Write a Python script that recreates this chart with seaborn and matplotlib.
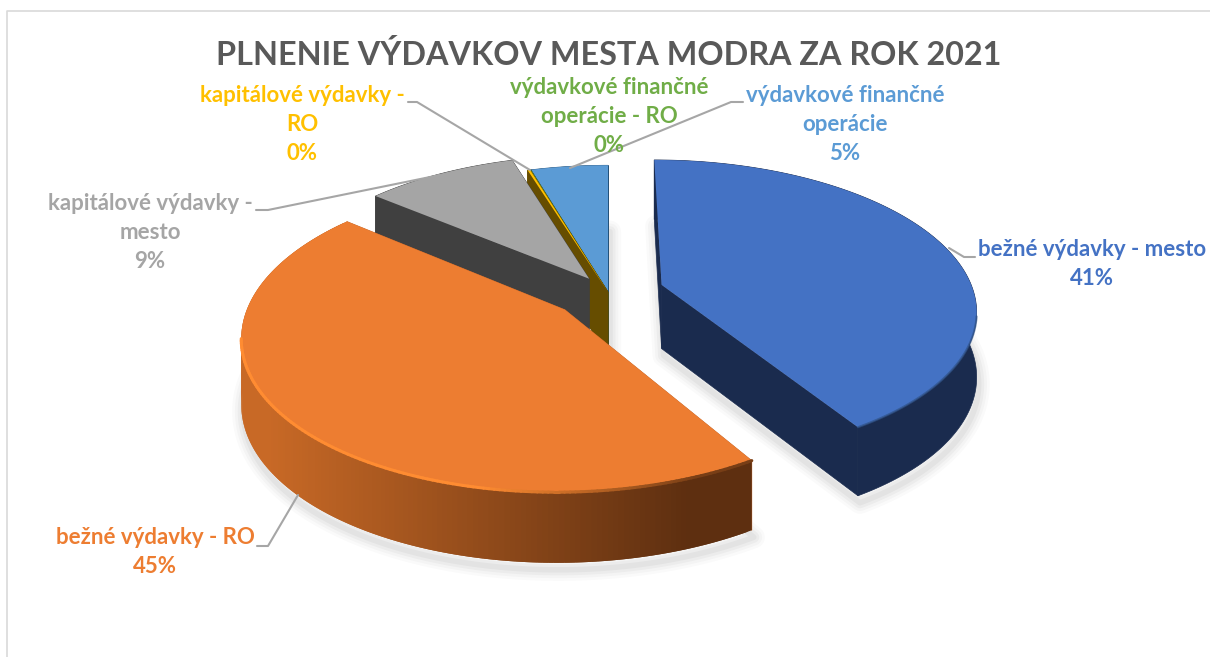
# Plnenie vydavkov - 3D kolac s perspektivou
import numpy as np
import matplotlib
matplotlib.use('Agg')
import matplotlib.pyplot as plt
import seaborn as sns

kategorie = ['bežné výdavky - mesto', 'bežné výdavky - RO', 'kapitálové výdavky - mesto',
             'kapitálové výdavky - RO', 'výdavkové finančné operácie - RO', 'výdavkové finančné operácie']
hodnoty = [41.2, 44.8, 9.2, 0.15, 0.05, 4.6]
popisky = [['bežné výdavky - mesto'], ['bežné výdavky - RO'], ['kapitálové výdavky -', 'mesto'],
           ['kapitálové výdavky -', 'RO'], ['výdavkové finančné', 'operácie - RO'], ['výdavkové finančné', 'operácie']]
vysunutie = [0.18, 0.18, 0.11, 0.0, 0.0, 0.0]
farby = ['#4472C4', '#ED7D31', '#A5A5A5', '#FFC000', '#70AD47', '#5B9BD5']
farby_bok = ['#1A2B4E', '#C8682A', '#404040', '#664D00', '#2C4A1C', '#24527A']
nadpis = 'PLNENIE VÝDAVKOV MESTA MODRA ZA ROK 2021'

# pozicie popiskov a vodiacich ciar (pixely)
pozicie_text = [(1092, 250), (155, 538), (150, 204), (302, 96), (609, 88), (845, 96)]
ciary = [[(949, 248), (964, 257), (975, 257)],
         [(257, 546), (268, 546), (298, 495)],
         [(256, 210), (268, 210), (440, 175)],
         [(408, 102), (417, 102), (530, 170)],
         None,
         [(743, 102), (731, 102), (570, 168)]]

# parametre projekcie
CX, CY = 608, 292
RX, RY = 312, 147
P = 0.16
H = 64


def proj(x, y, z=0.0):
    d = 1 + P * y
    return CX + RX * x / d, CY - RY * y / d + H * z / np.sqrt(d)


sns.set_theme(style='white')
plt.rcParams['font.family'] = ['Lato', 'DejaVu Sans']

fig = plt.figure(figsize=(12.1, 6.57), dpi=100)
ax = fig.add_axes([0, 0, 1, 1])
ax.set_xlim(0, 1210)
ax.set_ylim(657, 0)
ax.axis('off')

# ramik
ax.plot([6.5, 6.5, 1210], [657, 11, 11], color='#D9D9D9', lw=1.2)

hranice = np.cumsum([0] + hodnoty) / sum(hodnoty) * 2 * np.pi
poradie = [5, 4, 3, 2, 1, 0]

for i in poradie:
    a0, a1 = hranice[i], hranice[i + 1]
    mid = (a0 + a1) / 2
    ox, oy = vysunutie[i] * np.sin(mid), vysunutie[i] * np.cos(mid)
    t = np.linspace(a0, a1, max(int((a1 - a0) * 70), 3))
    arc_x = ox + np.sin(t)
    arc_y = oy + np.cos(t)

    top_x, top_y = proj(np.r_[ox, arc_x], np.r_[oy, arc_y])
    bot_x, bot_y = proj(np.r_[ox, arc_x], np.r_[oy, arc_y], 1.0)

    # tien
    if i in (0, 1, 5):
        for lw, a in [(16, 0.02), (12, 0.025), (8, 0.03), (4, 0.035)]:
            ax.fill(bot_x + 2, bot_y + 7, facecolor='none', edgecolor='black', lw=lw, alpha=a,
                    joinstyle='round', zorder=1 + (5 - i) * 3)

    z = 2 + (5 - i) * 3
    # radialne steny
    for k in (0, -1):
        sx, sy = proj(np.array([ox, arc_x[k]]), np.array([oy, arc_y[k]]))
        bx, by = proj(np.array([ox, arc_x[k]]), np.array([oy, arc_y[k]]), 1.0)
        ax.fill(np.r_[sx, bx[::-1]], np.r_[sy, by[::-1]], color=farby_bok[i], lw=0.5, zorder=z)

    # vonkajsi obvod, oranzovy s prechodom
    tx, ty = proj(arc_x, arc_y)
    bx, by = proj(arc_x, arc_y, 1.0)
    if i == 1:
        for j in range(len(t) - 2):
            f = np.clip((tx[j] - 270) / (690 - 270), 0, 1)
            c = tuple((1 - f) * np.array([200, 105, 38]) / 255 + f * np.array([94, 47, 16]) / 255)
            ax.fill([tx[j], tx[j + 2], bx[j + 2], bx[j]],
                    [ty[j], ty[j + 2], by[j + 2], by[j]], color=c, lw=0, zorder=z)
    else:
        ax.fill(np.r_[tx, bx[::-1]], np.r_[ty, by[::-1]], color=farby_bok[i], lw=0.5, zorder=z)

    # vrch
    ax.fill(top_x, top_y, color=farby[i], lw=0, zorder=z + 1)

    # okraj vrchu
    if i == 1:
        for j in range(len(t) - 1):
            f = np.clip((tx[j] - 480) / (700 - 480), 0, 1)
            c = (1 - f) * np.array([255, 140, 50]) / 255 + f * np.array([120, 62, 22]) / 255
            if ty[j] > 340:
                ax.plot(tx[j:j + 2], ty[j:j + 2], color=c, lw=2.2, zorder=z + 1, solid_capstyle='round')
    if i == 0:
        m = ty > 315
        ax.plot(tx[m], ty[m], color='#2F5288', lw=1.5, alpha=0.7, zorder=z + 1)

# vodiace ciary
for c in ciary:
    if c is not None:
        ax.plot(*zip(*c), color='#A6A6A6', lw=1.5, zorder=30, solid_capstyle='round')

# popisky
for i, riadky in enumerate(popisky):
    x, y = pozicie_text[i]
    riadky_vsetky = riadky + [f'{hodnoty[i]:.0f}%']
    for n, r in enumerate(riadky_vsetky):
        ax.text(x, y + n * 28.7, r, color=farby[i], fontsize=16, fontweight='bold',
                ha='center', va='center', zorder=31)

ax.text(609, 55, nadpis, color='#595959', fontsize=23.3, fontweight='bold', ha='center', va='center', zorder=31)

fig.savefig('out.png', dpi=100)
